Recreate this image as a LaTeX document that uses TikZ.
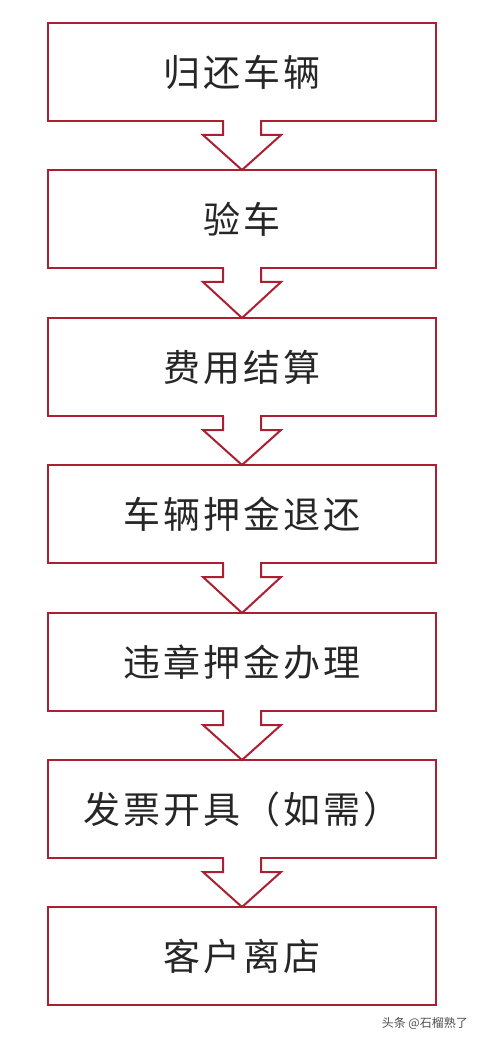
\documentclass[tikz,border=0pt]{standalone}
\usepackage{fontspec}
\newfontfamily\cjk[LetterSpace=8]{Noto Sans CJK SC}
\newfontfamily\cjkwm{Noto Sans CJK SC}
\usetikzlibrary{calc}
\definecolor{boxred}{RGB}{170,32,50}
\definecolor{wmgray}{RGB}{80,80,80}
\begin{document}
\begin{tikzpicture}[x=1pt,y=-1pt,
  stepbox/.style={draw=boxred, line width=2pt, fill=white, minimum width=388pt, minimum height=98pt,
    outer sep=0pt, inner sep=0pt, font=\cjk\fontsize{37pt}{40pt}\selectfont, text=black!85},
  flow/.style={draw=boxred, line width=2pt, line join=miter},
  wmark/.style={font=\cjkwm\fontsize{12pt}{14pt}\selectfont, text=wmgray, anchor=east, inner sep=0pt}]
\useasboundingbox (0,0) rectangle (480,1040);
\fill[white] (0,0) rectangle (480,1040);
\node[stepbox] (s1) at (242,72)  {归还车辆};
\node[stepbox] (s2) at (242,219) {验车};
\node[stepbox] (s3) at (242,367) {费用结算};
\node[stepbox] (s4) at (242,514) {车辆押金退还};
\node[stepbox] (s5) at (242,662) {违章押金办理};
\node[stepbox] (s6) at (242,809) {发票开具（如需）};
\node[stepbox] (s7) at (242,956) {客户离店};
\foreach \a/\b in {s1/s2,s2/s3,s3/s4,s4/s5,s5/s6,s6/s7} {
  \fill[white] ($(\a.south)+(-18,-3)$) rectangle ($(\a.south)+(18,3)$);
  \draw[flow] ($(\a.south)+(-19,0)$) -- ++(0,14) -- ++(-20,0) -- (\b.north)
     -- ($(\a.south)+(39,14)$) -- ++(-20,0) -- ++(0,-14);
}
\node[wmark] (wm) at (468,1023) {头条 @石榴熟了};
\end{tikzpicture}
\end{document}
